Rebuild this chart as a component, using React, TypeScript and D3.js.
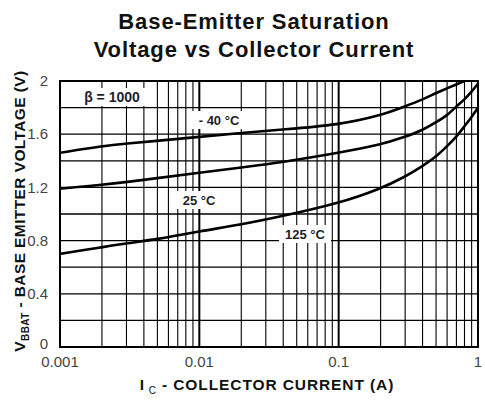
import * as d3 from 'd3';
import React, { useRef, useEffect } from 'react';

// collector current (A) sample points
const currents = [0.001, 0.002, 0.003, 0.005, 0.01, 0.02, 0.04, 0.1, 0.2, 0.3, 0.4, 0.5, 0.6, 0.7, 0.8, 0.9, 1];
const vMinus40 = [1.46, 1.51, 1.53, 1.55, 1.58, 1.61, 1.635, 1.67, 1.74, 1.81, 1.86, 1.91, 1.945, 1.975, 2.0, null, null];
const v25 = [1.19, 1.22, 1.24, 1.27, 1.31, 1.35, 1.39, 1.46, 1.52, 1.58, 1.63, 1.69, 1.74, 1.81, 1.86, 1.92, 1.98];
const v125 = [0.70, 0.75, 0.78, 0.81, 0.87, 0.92, 0.985, 1.08, 1.19, 1.28, 1.36, 1.43, 1.51, 1.58, 1.66, 1.73, 1.80];
const seriesNames = ['- 40 °C', '25 °C', '125 °C'];
const xTickValues = [0.001, 0.01, 0.1, 1];
const xTickLabels = ['0.001', '0.01', '0.1', '1'];
const yTickValues = [0, 0.4, 0.8, 1.2, 1.6, 2];
const yTickLabels = ['0', '0.4', '0.8', '1.2', '1.6', '2'];

const FONT = 'Liberation Sans, Arial, sans-serif';

function App() {
    const ref = useRef();
    const width = 485, height = 400;
    const margin = { top: 81, right: 7, bottom: 53, left: 60 };

    useEffect(() => {
        const svg = d3.select(ref.current);
        svg.selectAll('*').remove();
        const iw = width - margin.left - margin.right;
        const ih = height - margin.top - margin.bottom;

        const x = d3.scaleLog().domain([0.001, 1]).range([0, iw]);
        const y = d3.scaleLinear().domain([0, 2]).range([ih, 0]);

        const g = svg.append('g').attr('transform', `translate(${margin.left},${margin.top})`);

        // vertical grid: 1..9 in every decade
        const vlines = [];
        [0.001, 0.01, 0.1].forEach(dec => {
            for (let k = 1; k <= 9; k++) vlines.push({ v: dec * k, major: k === 1 });
        });
        g.selectAll('.vgrid').data(vlines).enter().append('line')
            .attr('x1', d => x(d.v)).attr('x2', d => x(d.v))
            .attr('y1', 0).attr('y2', ih)
            .attr('stroke', '#000')
            .attr('stroke-width', d => d.major ? 2 : 1.1);

        // horizontal grid every 0.2
        g.selectAll('.hgrid').data(d3.range(0.2, 2, 0.2)).enter().append('line')
            .attr('x1', 0).attr('x2', iw)
            .attr('y1', d => y(d)).attr('y2', d => y(d))
            .attr('stroke', '#000').attr('stroke-width', 1.3);

        // frame
        g.append('rect').attr('width', iw).attr('height', ih)
            .attr('fill', 'none').attr('stroke', '#000').attr('stroke-width', 2);

        // curves
        const line = d3.line()
            .defined(d => d[1] != null)
            .x(d => x(d[0])).y(d => y(d[1]))
            .curve(d3.curveBasis);
        svg.append('clipPath').attr('id', 'plotclip').append('rect')
            .attr('width', iw).attr('height', ih);
        const curves = g.append('g').attr('clip-path', 'url(#plotclip)');
        [vMinus40, v25, v125].forEach(vals => {
            const pts = currents.map((c, i) => [c, vals[i]]);
            curves.append('path').datum(pts)
                .attr('fill', 'none').attr('stroke', '#000').attr('stroke-width', 2.6)
                .attr('d', line);
        });

        // in-plot labels with white boxes
        const labels = [
            { t: 'β  = 1000', cx: 112, cy: 97, w: 84, fs: 14 },
            { t: seriesNames[0], cx: 219, cy: 120, w: 54, fs: 13 },
            { t: seriesNames[1], cx: 199, cy: 200, w: 46, fs: 13 },
            { t: seriesNames[2], cx: 305, cy: 234, w: 52, fs: 13 },
        ];
        labels.forEach(l => {
            svg.append('rect').attr('x', l.cx - l.w / 2).attr('y', l.cy - 9)
                .attr('width', l.w).attr('height', 18).attr('fill', '#fff');
            svg.append('text').attr('x', l.cx).attr('y', l.cy)
                .attr('text-anchor', 'middle').attr('dominant-baseline', 'central')
                .style('font-family', FONT)
                .style('font-weight', 'bold').style('font-size', l.fs + 'px')
                .attr('fill', '#1e1e2a').text(l.t);
        });

        // tick labels
        g.selectAll('.xt').data(xTickValues).enter().append('text')
            .attr('x', d => x(d)).attr('y', ih + 20)
            .attr('text-anchor', 'middle')
            .style('font-family', FONT)
            .style('font-size', '15px').attr('fill', '#444')
            .text((d, i) => xTickLabels[i]);
        g.selectAll('.yt').data(yTickValues).enter().append('text')
            .attr('x', -12).attr('y', d => y(d)).attr('dy', d => d === 0 ? '0.1em' : '0.35em')
            .attr('text-anchor', 'end')
            .style('font-family', FONT)
            .style('font-size', '15px').attr('fill', '#444')
            .text((d, i) => yTickLabels[i]);

        // titles
        const title = svg.append('text').attr('text-anchor', 'middle')
            .style('font-family', FONT)
            .style('font-weight', 'bold').style('font-size', '22px')
            .style('letter-spacing', '0.9px').attr('fill', '#111');
        title.append('tspan').attr('x', 254).attr('y', 29).text('Base-Emitter Saturation');
        title.append('tspan').attr('x', 254).attr('y', 57).text('Voltage vs Collector Current');

        // x label
        const xl = svg.append('text').attr('x', 267).attr('y', 390).attr('text-anchor', 'middle')
            .style('font-family', FONT).style('letter-spacing', '0.9px')
            .style('font-weight', 'bold').style('font-size', '15.5px').attr('fill', '#111');
        xl.append('tspan').text('I');
        xl.append('tspan').attr('dy', 4).style('font-size', '10px').style('font-weight', 'normal').text(' C');
        xl.append('tspan').attr('dy', -4).text(' - COLLECTOR CURRENT  (A)');

        // y label
        const yl = svg.append('text')
            .attr('transform', `translate(25,${margin.top + ih / 2 - 3}) rotate(-90)`)
            .attr('text-anchor', 'middle')
            .style('font-family', FONT).style('letter-spacing', '0.4px')
            .style('font-weight', 'bold').style('font-size', '15.5px').attr('fill', '#111');
        yl.append('tspan').text('V');
        yl.append('tspan').attr('dy', 4).style('font-size', '10px').text('BBAT');
        yl.append('tspan').attr('dy', -4).text(' - BASE EMITTER VOLTAGE (V)');
    }, []);

    return (
        <svg ref={ref} width={width} height={height}
            style={{ position: 'absolute', left: 0, top: 0, background: '#fff' }} />
    );
}

export default App;
